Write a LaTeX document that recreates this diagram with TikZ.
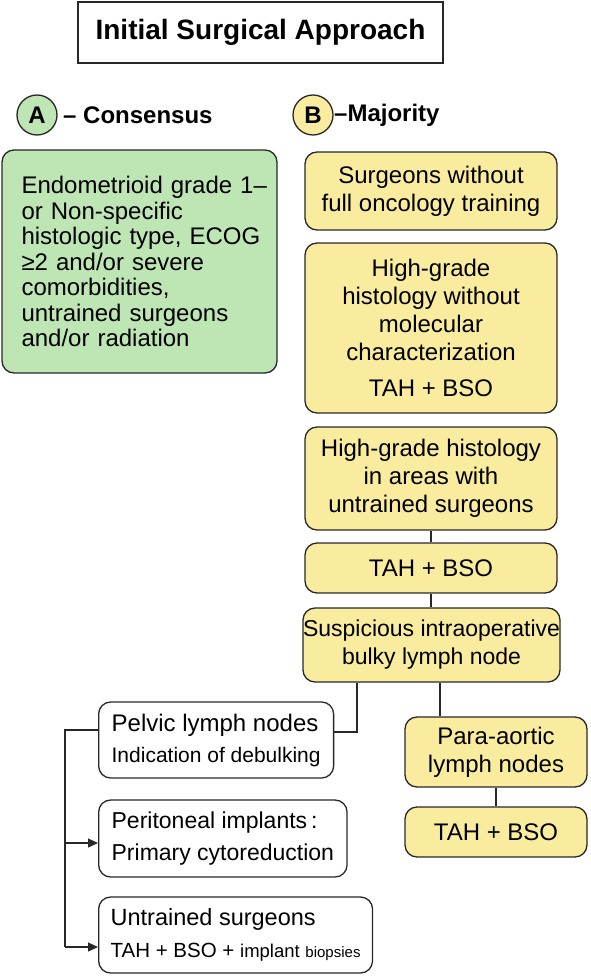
\documentclass[tikz,border=0pt]{standalone}
\usepackage{fontspec}
\setmainfont{Liberation Sans}
\usetikzlibrary{positioning, arrows.meta, shapes.geometric}
\definecolor{consgreen}{RGB}{190,229,180}
\definecolor{majyellow}{RGB}{250,236,158}
\definecolor{edgegray}{RGB}{40,40,40}
\newcommand{\fsz}[2]{\fontsize{#1}{#2}\selectfont}

\begin{document}
\begin{tikzpicture}[x=1pt, y=-1pt,
    box/.style={draw=edgegray, line width=1.3pt, rounded corners=12pt, inner sep=0pt, align=center},
    ybox/.style={box, fill=majyellow, font=\fsz{24}{28}},
    wbox/.style={box, fill=white, align=left, inner xsep=13pt, anchor=west},
    badge/.style={circle, draw=edgegray, line width=1.3pt, minimum size=40pt, inner sep=0pt, font=\bfseries\fsz{24}{28}},
    link/.style={edgegray, line width=1.3pt},
    arr/.style={link, -{Triangle[length=10pt, width=9pt]}}]
    \useasboundingbox (0,0) rectangle (590,976);

    % Titolo
    \node[draw=edgegray, line width=1.5pt, minimum width=365pt, minimum height=61pt,
          font=\bfseries\fsz{28}{32}] (title) at (260.5,32.5) {Initial Surgical Approach};

    % Intestazioni A e B
    \node[badge, fill=consgreen] (badgeA) at (37,115) {A};
    \node[anchor=west, inner sep=0pt, font=\bfseries\fsz{24}{28}] (consA) at (63,115) {– Consensus};
    \node[badge, fill=majyellow] (badgeB) at (313,115) {B};
    \node[anchor=west, inner sep=0pt, font=\bfseries\fsz{24}{28}] (majB) at (334,115) {–Majority};

    % Colonna A
    \node[box, fill=consgreen, align=left, text width=260pt, inner xsep=7.5pt, minimum height=223pt,
          font=\fsz{24}{25.5}] (consensus) at (139.5,261.5)
          {\hspace*{12pt}Endometrioid grade 1–\\ \hspace*{12pt}or Non-specific\\ \hspace*{12pt}histologic type, ECOG\\
           \hspace*{12pt}≥2 and/or severe\\ \hspace*{12pt}comorbidities,\\ \hspace*{12pt}untrained surgeons\\ \hspace*{12pt}and/or radiation};

    % Colonna B
    \node[ybox, minimum width=252pt, minimum height=78pt] (fulltrain) at (431,191) {Surgeons without\\ full oncology training};
    \node[ybox, minimum width=252pt, minimum height=170pt] (molec) at (431,328)
          {High-grade\\ histology without\\ molecular\\ characterization\\[8pt] TAH + BSO};
    \node[ybox, minimum width=252pt, minimum height=103pt] (areas) at (431,478.5)
          {High-grade histology\\ in areas with\\ untrained surgeons};
    \node[ybox, minimum width=252pt, minimum height=50pt] (tahA) at (431,568) {TAH + BSO};
    \node[ybox, minimum width=257pt, minimum height=74pt, font=\fsz{23}{28}] (bulky) at (431.5,645)
          {Suspicious intraoperative\\ bulky lymph node};
    \node[ybox, minimum width=182pt, minimum height=70pt] (paraaortic) at (496,752) {Para-aortic\\ lymph nodes};
    \node[ybox, minimum width=182pt, minimum height=50pt] (tahB) at (496,832) {TAH + BSO};

    % Rami a sinistra
    \node[wbox, minimum height=76pt, font=\fsz{24}{31}] (pelvic) at (98,740)
          {Pelvic lymph nodes\\ \fsz{21}{31}Indication of debulking};
    \node[wbox, minimum height=77pt, font=\fsz{23}{32}] (peritoneal) at (98,838.5)
          {Peritoneal implants\,:\\ Primary cytoreduction};
    \node[wbox, minimum height=76pt, font=\fsz{23.5}{32}, inner xsep=12pt] (untrained) at (98,935)
          {Untrained surgeons\\ \fsz{20.5}{32}TAH + BSO + {\fsz{18.5}{32}implant} {\fsz{15}{32}biopsies}};

    % Collegamenti
    \draw[link] (areas.south) -- (tahA.north);
    \draw[link] (tahA.south) -- (tahA.south |- bulky.north);
    \draw[link] ([xshift=8.5pt]bulky.south) -- ([xshift=8.5pt]bulky.south |- paraaortic.north);
    \draw[link] (paraaortic.south) -- (tahB.north);
    \draw[link] ([xshift=-74.5pt]bulky.south) |- ([yshift=8pt]pelvic.east);

    \coordinate (trunk) at (65,947);
    \coordinate (perin) at ([yshift=-4.5pt]peritoneal.west);
    \draw[link] ([yshift=10pt]pelvic.west) -| (trunk);
    \draw[arr] (trunk |- perin) -- (perin);
    \draw[arr] (trunk) -- (trunk -| untrained.west);

\end{tikzpicture}
\end{document}
